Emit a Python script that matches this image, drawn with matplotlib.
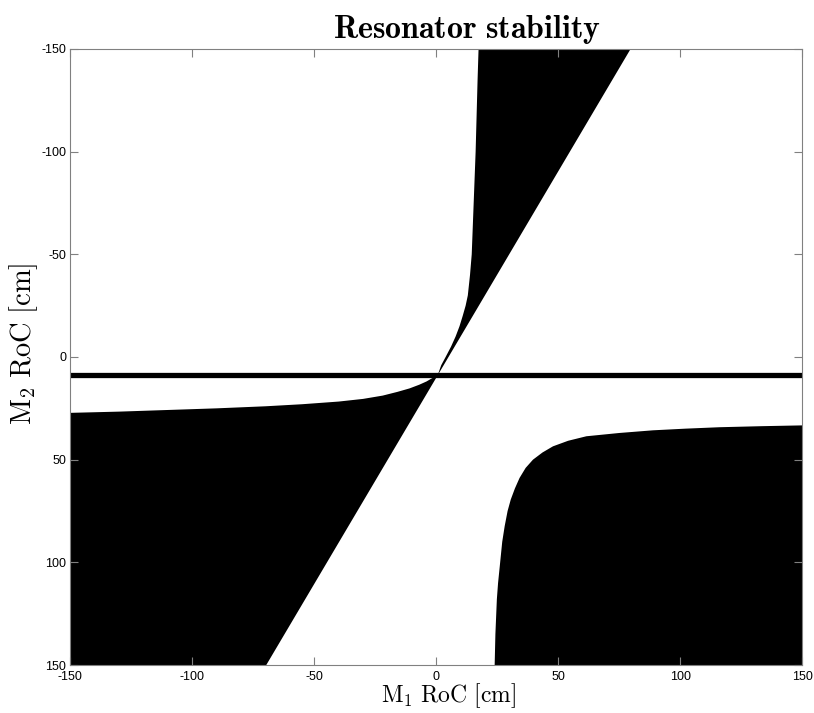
import matplotlib
matplotlib.use('Agg')
import matplotlib.pyplot as plt

plt.rcParams['mathtext.fontset'] = 'cm'
plt.rcParams['font.family'] = ['Liberation Sans', 'DejaVu Sans']
plt.rcParams['axes.unicode_minus'] = False

# boundary points (M1 RoC, M2 RoC) in cm
upper_x = [0.5, 2.0, 3.8, 6.0, 7.9, 9.5, 10.8, 12.0, 12.9, 13.8, 14.5, 15.3,
           16.1, 16.9, 17.3, 79.6]
upper_y = [9.0, 4.0, 0.0, -5.0, -10.0, -15.0, -20.0, -25.0, -30.0, -40.0,
           -50.0, -75.0, -100.0, -135.0, -150.0, -150.0]

lower_left_x = [-150, -130, -110, -90, -70, -55, -40, -30, -22, -16, -11,
                -7, -4, -2, 0.5, -69.7, -150]
lower_left_y = [27.2, 26.6, 25.8, 25.0, 24.0, 23.0, 21.7, 20.4, 18.8, 17.0,
                15.3, 13.5, 11.9, 10.5, 9.0, 150, 150]

lower_right_x = [23.9, 24.2, 24.8, 25.3, 26.0, 27.0, 28.0, 29.2, 30.5, 32.2,
                 34.1, 36.6, 39.6, 43.5, 47.8, 54, 61.5, 75, 88.8, 102, 116,
                 133, 150, 150]
lower_right_y = [150, 135, 118, 110, 101.8, 90, 82.4, 75, 69.4, 64, 58.9, 54,
                 50, 46.5, 43.5, 40.8, 38.6, 37, 35.7, 34.9, 34.2, 33.7, 33.3,
                 150]

band_y = 8.85  # thin stable band across all M1

ticks = [-150, -100, -50, 0, 50, 100, 150]

fig = plt.figure(figsize=(8.14, 7.13), dpi=100)
ax = fig.add_axes([0.0864, 0.0673, 0.8993, 0.8640])

ax.fill(upper_x, upper_y, color='black', lw=0)
ax.fill(lower_left_x, lower_left_y, color='black', lw=0)
ax.fill(lower_right_x, lower_right_y, color='black', lw=0)
ax.axhline(band_y, color='black', lw=3.8)

ax.set_xlim(-150, 150)
ax.set_ylim(150, -150)
ax.set_xticks(ticks)
ax.set_yticks(ticks)
ax.tick_params(direction='in', top=True, right=True, length=5.5, width=0.8,
               color='#808080', labelsize=9)
ax.tick_params(axis='x', pad=4)
ax.tick_params(axis='y', pad=3)
for s in ax.spines.values():
    s.set_color('#808080')
    s.set_linewidth(0.8)

fig.text(0.574, 0.958, r'$\mathbf{Resonator\ stability}$', fontsize=23,
         ha='center', va='center')
fig.text(0.5504, 0.0154, r'$\mathrm{M_1\ RoC\ [cm]}$', fontsize=17,
         ha='center', va='baseline')
fig.text(0.0295, 0.5175, r'$\mathrm{M_2\ RoC\ [cm]}$', fontsize=20.5,
         ha='center', va='center', rotation=90)

fig.savefig('out.png', dpi=100)
